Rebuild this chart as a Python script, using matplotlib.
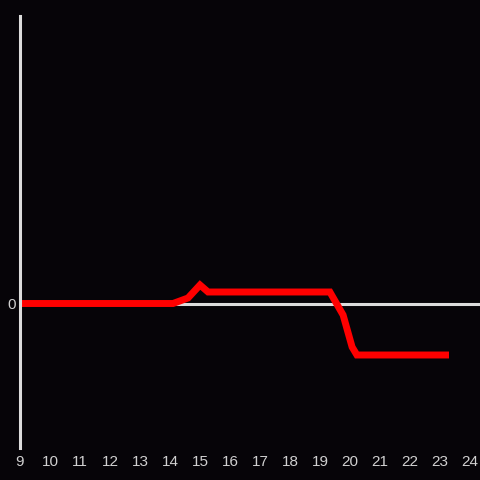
import matplotlib
matplotlib.use('Agg')
import matplotlib.pyplot as plt

# line data
hours = [9.0, 14.1, 14.6, 15.0, 15.27, 19.33, 19.77, 20.07, 20.23, 23.3]
values = [0.0, 0.0, 0.055, 0.185, 0.115, 0.115, -0.115, -0.435, -0.515, -0.515]
xticks = list(range(9, 25))

bg = '#060408'
fg = '#dcdcdc'

plt.rcParams['font.family'] = ['Liberation Sans', 'DejaVu Sans']

fig = plt.figure(figsize=(4.8, 4.8), dpi=100, facecolor=bg)
ax = fig.add_axes([20 / 480, 32 / 480, 460 / 480, 432 / 480], facecolor=bg)

ax.axhline(0, color=fg, lw=2.2, zorder=1)
ax.plot(hours, values, color='#ff0000', lw=5, solid_capstyle='butt',
        solid_joinstyle='miter', zorder=2)

ax.set_xlim(9, 24 + 1 / 3)
ax.set_ylim(-1.445, 2.875)
ax.set_xticks(xticks)
ax.set_xticklabels([str(t) for t in xticks])
ax.set_yticks([0])
ax.set_yticklabels(['0'])

for side in ['top', 'right', 'bottom']:
    ax.spines[side].set_visible(False)
ax.spines['left'].set_color(fg)
ax.spines['left'].set_linewidth(2.2)

ax.tick_params(axis='both', length=0, colors='#d0d0d0', labelsize=11)
ax.tick_params(axis='x', pad=5)
ax.tick_params(axis='y', pad=3)

fig.savefig('out.png', dpi=100, facecolor=bg)
